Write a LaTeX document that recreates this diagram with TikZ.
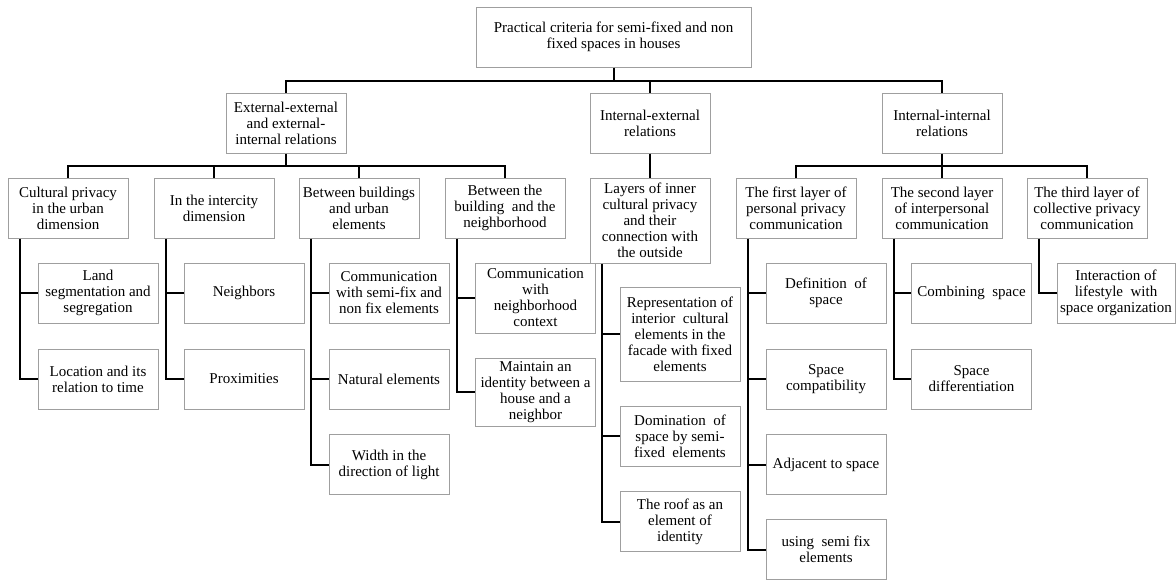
\documentclass[tikz,border=0pt]{standalone}
\usepackage{fontspec}
\setmainfont{Liberation Serif}
\begin{document}
\begin{tikzpicture}[x=1pt,y=-1pt,
    box/.style={draw=gray!75,line width=1pt,minimum width=120pt,minimum height=60pt,
      align=center,inner sep=1pt,font=\fontsize{15}{16}\selectfont},
    conn/.style={line width=2pt,black}]
            \useasboundingbox (0,0) rectangle (1176,581);

            \node[box,minimum width=275pt] (root) at (613.5,37)
             {Practical criteria for semi-fixed and non\\fixed spaces in houses};

            \node[box] (ee) at (286,123) {External-external\\and external-\\internal relations};
            \node[box] (ie) at (650,123) {Internal-external\\relations};
            \node[box] (ii) at (942,123) {Internal-internal\\relations};

            \node[box] (urban) at (68,208) {Cultural privacy\\in the urban\\dimension};
            \node[box] (intercity) at (214,208) {In the intercity\\dimension};
            \node[box] (buildings) at (359,208) {Between buildings\\and urban\\elements};
            \node[box] (neighborhood) at (505,208) {Between the\\building\ \ and the\\neighborhood};
            \node[box,minimum height=85pt] (layers) at (650,220.5)
             {Layers of inner\\cultural privacy\\and their\\connection with\\the outside};
            \node[box] (first) at (796,208) {The first layer of\\personal privacy\\communication};
            \node[box] (second) at (942,208) {The second layer\\of interpersonal\\communication};
            \node[box] (third) at (1087,208) {The third layer of\\collective privacy\\communication};

            \node[box] (land) at (98,293) {Land\\segmentation and\\segregation};
            \node[box] (location) at (98,379) {Location and its\\relation to time};

            \node[box] (neighbors) at (244,293) {Neighbors};
            \node[box] (proximities) at (244,379) {Proximities};

            \node[box] (semifix) at (389,293) {Communication\\with semi-fix and\\non fix elements};
            \node[box] (natural) at (389,379) {Natural elements};
            \node[box] (width) at (389,464.5) {Width in the\\direction of light};

            \node[box,minimum height=70pt] (context) at (535.5,298)
             {Communication\\with\\neighborhood\\context};
            \node[box,minimum height=68pt] (identity) at (535.5,392)
             {Maintain an\\identity between a\\house and a\\neighbor};

            \node[box,minimum height=94pt] (facade) at (680,334)
             {Representation of\\interior\ \ cultural\\elements in the\\facade with fixed\\elements};
            \node[box] (domination) at (680,436) {Domination\ \ of\\space by semi-\\fixed\ \ elements};
            \node[box] (roof) at (680,521.5) {The roof as an\\element of\\identity};

            \node[box] (definition) at (826,293) {Definition\ \ of\\space};
            \node[box] (compat) at (826,379) {Space\\compatibility};
            \node[box] (adjacent) at (826,464.5) {Adjacent to space};
            \node[box] (using) at (826,549.5) {using\ \ semi fix\\elements};

            \node[box] (combining) at (971.5,293) {Combining\ \ space};
            \node[box] (differ) at (971.5,379) {Space\\differentiation};

            \node[box,minimum width=118pt] (lifestyle) at (1116,293)
             {Interaction of\\lifestyle\ \ with\\space organization};

            \draw[conn] (root.south) -- ++(0,13) coordinate (top bus);
            \draw[conn] (ee.north) |- (top bus) -| (ii.north);
            \draw[conn] (ie.north) -- (ie.north |- top bus);

            \draw[conn] (ee.south) -- ++(0,12) coordinate (ee bus);
            \draw[conn] (urban.north) |- (ee bus) -| (neighborhood.north);
            \draw[conn] (intercity.north) -- (intercity.north |- ee bus);
            \draw[conn] (buildings.north) -- (buildings.north |- ee bus);
            \draw[conn] (ie.south) -- (layers.north);
            \draw[conn] (ii.south) -- ++(0,12) coordinate (ii bus);
            \draw[conn] (first.north) |- (ii bus) -| (third.north);
            \draw[conn] (second.north) -- (second.north |- ii bus);

            \draw[conn] ([xshift=12pt]urban.south west) |- (location.west)
             ([xshift=12pt]urban.south west) |- (land.west);
            \draw[conn] ([xshift=12pt]intercity.south west) |- (proximities.west)
             ([xshift=12pt]intercity.south west) |- (neighbors.west);
            \draw[conn] ([xshift=12pt]buildings.south west) |- (width.west)
             ([xshift=12pt]buildings.south west) |- (natural.west)
             ([xshift=12pt]buildings.south west) |- (semifix.west);
            \draw[conn] ([xshift=12pt]neighborhood.south west) |- (identity.west)
             ([xshift=12pt]neighborhood.south west) |- (context.west);
            \draw[conn] ([xshift=12pt]layers.south west) |- (roof.west)
             ([xshift=12pt]layers.south west) |- (domination.west)
             ([xshift=12pt]layers.south west) |- (facade.west);
            \draw[conn] ([xshift=12pt]first.south west) |- (using.west)
             ([xshift=12pt]first.south west) |- (adjacent.west)
             ([xshift=12pt]first.south west) |- (compat.west)
             ([xshift=12pt]first.south west) |- (definition.west);
            \draw[conn] ([xshift=12pt]second.south west) |- (differ.west)
             ([xshift=12pt]second.south west) |- (combining.west);
            \draw[conn] ([xshift=12pt]third.south west) |- (lifestyle.west);
           \end{tikzpicture}
\end{document}
